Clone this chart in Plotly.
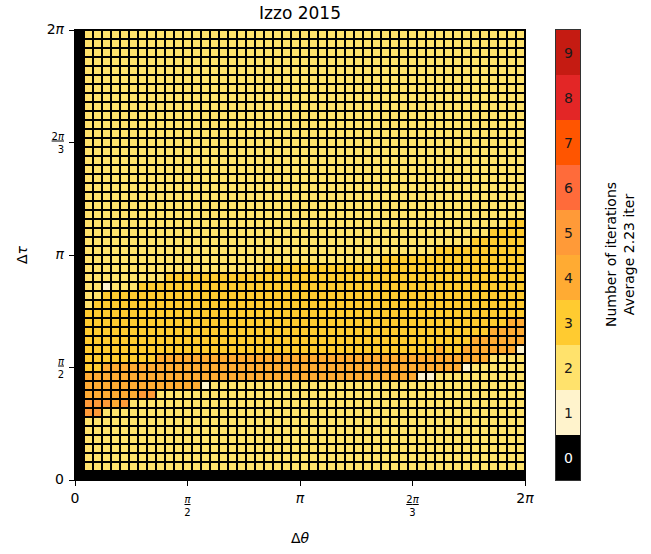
import math
import plotly.graph_objects as go

# Grid resolution and angular extent of both axes
N_CELLS = 50
TWO_PI = 2 * math.pi

# Number of iterations per grid row, bottom row first.
# Each row is run-length encoded as (iterations, number of cells), left to right.
iteration_rows = [
    [(0, 50)],
    [(0, 1), (2, 49)],
    [(0, 1), (2, 49)],
    [(0, 1), (2, 49)],
    [(0, 1), (2, 49)],
    [(0, 1), (2, 49)],
    [(0, 1), (2, 49)],
    [(0, 1), (5, 2), (2, 47)],
    [(0, 1), (5, 3), (4, 1), (5, 1), (2, 44)],
    [(0, 1), (4, 6), (5, 2), (2, 41)],
    [(0, 1), (4, 13), (1, 1), (2, 35)],
    [(0, 1), (4, 37), (1, 2), (2, 10)],
    [(0, 1), (3, 2), (4, 40), (1, 1), (2, 6)],
    [(0, 1), (3, 8), (4, 37), (2, 4)],
    [(0, 1), (3, 39), (4, 1), (3, 2), (4, 6), (1, 1)],
    [(0, 1), (3, 43), (4, 6)],
    [(0, 1), (3, 45), (4, 4)],
    [(0, 1), (3, 47), (4, 2)],
    [(0, 1), (3, 49)],
    [(0, 1), (2, 1), (3, 48)],
    [(0, 1), (2, 2), (3, 47)],
    [(0, 1), (2, 2), (1, 1), (2, 3), (3, 43)],
    [(0, 1), (2, 9), (3, 40)],
    [(0, 1), (2, 20), (3, 29)],
    [(0, 1), (2, 33), (3, 16)],
    [(0, 1), (2, 39), (3, 10)],
    [(0, 1), (2, 43), (3, 6)],
    [(0, 1), (2, 45), (3, 4)],
    [(0, 1), (2, 47), (3, 2)],
    [(0, 1), (2, 49)],
    [(0, 1), (2, 49)],
    [(0, 1), (2, 49)],
    [(0, 1), (2, 49)],
    [(0, 1), (2, 49)],
    [(0, 1), (2, 49)],
    [(0, 1), (2, 49)],
    [(0, 1), (2, 49)],
    [(0, 1), (2, 49)],
    [(0, 1), (2, 49)],
    [(0, 1), (2, 49)],
    [(0, 1), (2, 49)],
    [(0, 1), (2, 49)],
    [(0, 1), (2, 49)],
    [(0, 1), (2, 49)],
    [(0, 1), (2, 49)],
    [(0, 1), (2, 49)],
    [(0, 1), (2, 49)],
    [(0, 1), (2, 49)],
    [(0, 1), (2, 49)],
    [(0, 1), (2, 49)],
]

# Discrete colour for each iteration count 0..9
levels = [0, 1, 2, 3, 4, 5, 6, 7, 8, 9]
level_colors = [
    "#000000", "#fff3cc", "#ffe26c", "#ffcb30", "#ffab33",
    "#ff9a38", "#ff6b3a", "#ff5500", "#e32626", "#c51b12",
]

tick_positions = [0, math.pi / 2, math.pi, 3 * math.pi / 2, 2 * math.pi]
big = "<span style='font-size:14px'>{}</span>"
frac = "<span style='text-decoration:underline'>{}</span><br>{}"
tick_labels = [big.format("0"), frac.format("<i>π</i>", "2"),
               big.format("<i>π</i>"), frac.format("2<i>π</i>", "3"),
               big.format("2<i>π</i>")]

title_text = "Izzo 2015"
x_title = "Δ<i>θ</i>"
y_title = "Δ<i>τ</i>"
colorbar_title = "Number of iterations<br>Average 2.23 iter"

# Expand the run-length rows into the full grid
z = []
for row in iteration_rows:
    cells = []
    for value, count in row:
        cells.extend([value] * count)
    z.append(cells)

# Stepwise colour scale: one flat band per integer level
n_levels = len(levels)
colorscale = []
for k, c in enumerate(level_colors):
    colorscale.append([k / n_levels, c])
    colorscale.append([(k + 1) / n_levels, c])

cell = TWO_PI / N_CELLS
FONT = "DejaVu Sans"

fig = go.Figure()
fig.add_trace(go.Heatmap(
    z=z, x0=cell / 2, dx=cell, y0=cell / 2, dy=cell,
    colorscale=colorscale, zmin=-0.5, zmax=n_levels - 0.5,
    showscale=False, xgap=2, ygap=2, hoverinfo="skip",
))

# Colour bar drawn as its own one-column heatmap
fig.add_trace(go.Heatmap(
    z=[[k] for k in levels], x=[0], y=levels,
    colorscale=colorscale, zmin=-0.5, zmax=n_levels - 0.5,
    showscale=False, xaxis="x2", yaxis="y2", hoverinfo="skip",
))
for k in levels:
    fig.add_annotation(
        x=0, y=k, xref="x2", yref="y2", text=str(k), showarrow=False,
        font=dict(family=FONT, size=14, color="white" if k == 0 else "#1a1a1a"),
    )

W, H = 651, 554
ML, MR, MT, MB = 75, 71, 30, 74
pw = W - ML - MR
ph = H - MT - MB
main_right = 450 / pw
cb_left = (556 - ML) / pw

axis_common = dict(
    showgrid=False, zeroline=False, showline=True, mirror=True,
    linecolor="black", linewidth=1, ticks="outside", ticklen=5,
    tickcolor="black", tickwidth=1,
    tickfont=dict(family=FONT, size=10, color="black"),
)

fig.update_layout(
    width=W, height=H,
    margin=dict(l=ML, r=MR, t=MT, b=MB),
    paper_bgcolor="white", plot_bgcolor="black",
    font=dict(family=FONT, color="black"),
    title=dict(text=title_text, x=(300 - ML) / pw, xref="paper",
               xanchor="center", y=1 - 13 / H, yanchor="middle",
               font=dict(family=FONT, size=17, color="black")),
    xaxis=dict(domain=[0, main_right], range=[0, TWO_PI], ticklabelstandoff=5,
               tickvals=tick_positions, ticktext=tick_labels, **axis_common),
    yaxis=dict(domain=[0, 1], range=[0, TWO_PI], ticklabelstandoff=3,
               tickvals=tick_positions, ticktext=tick_labels, **axis_common),
    xaxis2=dict(domain=[cb_left, 1], range=[-0.5, 0.5], anchor="y2",
                showticklabels=False, ticks="", showgrid=False, zeroline=False,
                showline=True, mirror=True, linecolor="#333", linewidth=1),
    yaxis2=dict(domain=[0, 1], range=[-0.5, n_levels - 0.5], anchor="x2",
                showticklabels=False, ticks="", showgrid=False, zeroline=False,
                showline=True, mirror=True, linecolor="#333", linewidth=1),
    showlegend=False,
)

fig.add_annotation(text=x_title, xref="paper", yref="paper",
                   x=(300 - ML) / pw, y=(480 - 538) / ph, showarrow=False,
                   xanchor="center", yanchor="middle",
                   font=dict(family=FONT, size=14, color="black"))
fig.add_annotation(text=y_title, xref="paper", yref="paper",
                   x=(22 - ML) / pw, y=0.5, showarrow=False, textangle=-90,
                   xanchor="center", yanchor="middle",
                   font=dict(family=FONT, size=14, color="black"))
fig.add_annotation(text=colorbar_title, xref="paper", yref="paper",
                   x=(620 - ML) / pw, y=0.5, showarrow=False, textangle=-90,
                   xanchor="center", yanchor="middle",
                   font=dict(family=FONT, size=14, color="black"))

fig.write_html("out.html")
